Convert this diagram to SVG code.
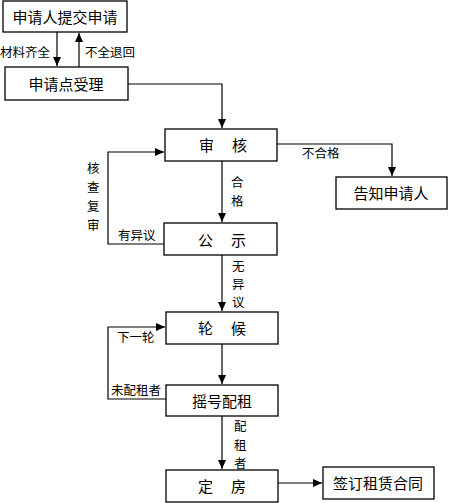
<svg xmlns="http://www.w3.org/2000/svg" width="449" height="503" viewBox="0 0 449 503">
<style>
.box{fill:#fff;stroke:#000;stroke-width:1.3}
.t{font-family:"Liberation Sans","Noto Sans CJK SC",sans-serif;font-size:15px;fill:#000;text-anchor:middle;dominant-baseline:central}
.l{font-family:"Liberation Sans","Noto Sans CJK SC",sans-serif;font-size:12.5px;fill:#000;dominant-baseline:central}
.c{fill:none;stroke:#000;stroke-width:1.2}
</style>
<defs>
<marker id="a" markerWidth="10" markerHeight="8" refX="9" refY="4" orient="auto" markerUnits="userSpaceOnUse">
<path d="M0,0 L9,4 L0,8 Z" fill="#000"/>
</marker>
</defs>
<rect width="449" height="503" fill="#fff"/>
<g id="connectors">
<path class="c" d="M57,32 V66" marker-end="url(#a)"/>
<path class="c" d="M79,67 V33" marker-end="url(#a)"/>
<path class="c" d="M128,84 H222 V128" marker-end="url(#a)"/>
<path class="c" d="M277,144 H392 V176" marker-end="url(#a)"/>
<path class="c" d="M222,161 V222" marker-end="url(#a)"/>
<path class="c" d="M164,244 H108 V152 H164" marker-end="url(#a)"/>
<path class="c" d="M222,255 V311" marker-end="url(#a)"/>
<path class="c" d="M166,399 H108 V327 H165" marker-end="url(#a)"/>
<path class="c" d="M222,344 V384" marker-end="url(#a)"/>
<path class="c" d="M222,416 V469" marker-end="url(#a)"/>
<path class="c" d="M278,483 H322" marker-end="url(#a)"/>
<text class="l" x="0" y="53">材料齐全</text>
<text class="l" x="85" y="53">不全退回</text>
<text class="l" x="302" y="154">不合格</text>
<text class="l" x="231" y="183">合</text>
<text class="l" x="231" y="202">格</text>
<text class="l" x="87" y="169">核</text>
<text class="l" x="87" y="188">查</text>
<text class="l" x="87" y="207">复</text>
<text class="l" x="87" y="226">审</text>
<text class="l" x="118" y="236">有异议</text>
<text class="l" x="232" y="267">无</text>
<text class="l" x="232" y="285">异</text>
<text class="l" x="232" y="303">议</text>
<text class="l" x="117" y="338">下一轮</text>
<text class="l" x="111" y="391">未配租者</text>
<text class="l" x="234" y="427">配</text>
<text class="l" x="234" y="446">租</text>
<text class="l" x="234" y="464">者</text>
</g>
<g id="n1"><rect class="box" x="3" y="1" width="124" height="31"/><text class="t" x="65" y="17">申请人提交申请</text></g>
<g id="n2"><rect class="box" x="5" y="67" width="123" height="33"/><text class="t" x="66" y="84">申请点受理</text></g>
<g id="n3"><rect class="box" x="165" y="129" width="112" height="32"/><text class="t" x="223" y="145" word-spacing="14">审 核</text></g>
<g id="n4"><rect class="box" x="336" y="177" width="111" height="32"/><text class="t" x="391" y="193">告知申请人</text></g>
<g id="n5"><rect class="box" x="164" y="223" width="113" height="32"/><text class="t" x="222" y="240" word-spacing="14">公 示</text></g>
<g id="n6"><rect class="box" x="166" y="312" width="112" height="32"/><text class="t" x="222" y="328" word-spacing="14">轮 候</text></g>
<g id="n7"><rect class="box" x="166" y="385" width="112" height="31"/><text class="t" x="222" y="401">摇号配租</text></g>
<g id="n8"><rect class="box" x="166" y="470" width="112" height="32"/><text class="t" x="222" y="486" word-spacing="14">定 房</text></g>
<g id="n9"><rect class="box" x="323" y="467" width="111" height="32"/><text class="t" x="378" y="483">签订租赁合同</text></g>
</svg>
